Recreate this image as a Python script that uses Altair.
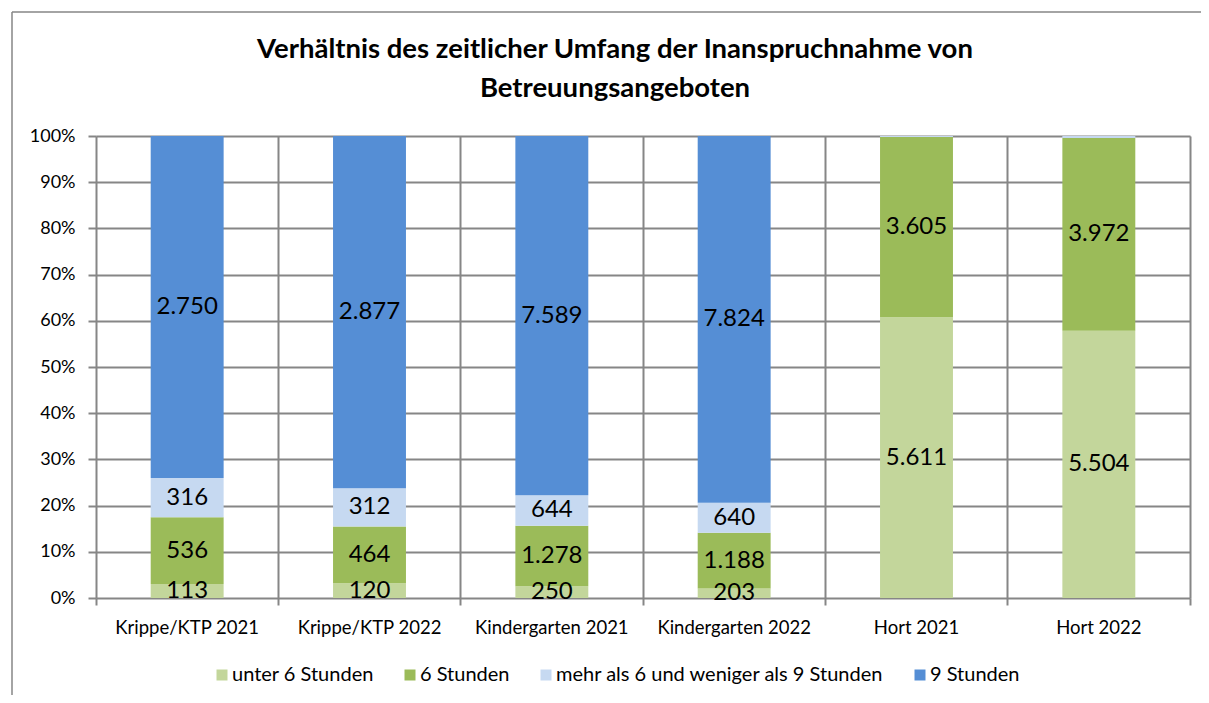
import altair as alt
import pandas as pd

categories = ["Krippe/KTP 2021", "Krippe/KTP 2022", "Kindergarten 2021",
              "Kindergarten 2022", "Hort 2021", "Hort 2022"]
series = ["unter 6 Stunden", "6 Stunden",
          "mehr als 6 und weniger als 9 Stunden", "9 Stunden"]
colors = ["#C3D69B", "#9BBB59", "#C6D9F1", "#558ED5"]

unter6 = [113, 120, 250, 203, 5611, 5504]
std6 = [536, 464, 1278, 1188, 3605, 3972]
mehr = [316, 312, 644, 640, 18, 40]
std9 = [2750, 2877, 7589, 7824, 0, 0]

title_lines = ["Verhältnis des zeitlicher Umfang der Inanspruchnahme von",
               "Betreuungsangeboten"]

rows = []
for si, (name, vals) in enumerate(zip(series, [unter6, std6, mehr, std9])):
    for ci, cat in enumerate(categories):
        v = vals[ci]
        rows.append({"cat": cat, "series": name, "order": si, "value": v,
                     "label": f"{v:,}".replace(",", ".")})
df = pd.DataFrame(rows)

FONT = "Lato"
GRID = "#868686"

base = alt.Chart(df).transform_stack(
    stack="value", groupby=["cat"], as_=["y0", "y1"],
    offset="normalize", sort=[alt.SortField("order")]
).transform_calculate(mid="(datum.y0 + datum.y1) / 2",
                      share="datum.y1 - datum.y0")

xenc = alt.X("cat:N", sort=categories, title=None,
             scale=alt.Scale(paddingInner=0, paddingOuter=0),
             axis=alt.Axis(labelAngle=0, labelFont=FONT, labelFontSize=18.5,
                           labelColor="#000000", labelPadding=13,
                           tickSize=7, tickColor=GRID, tickWidth=2,
                           bandPosition=1, tickExtra=True,
                           grid=True, gridColor=GRID, gridWidth=2,
                           domain=False))

bars = base.mark_bar(width=alt.RelativeBandSize(0.4)).encode(
    x=xenc,
    y=alt.Y("y0:Q", title=None,
            scale=alt.Scale(domain=[0, 1]),
            axis=alt.Axis(format=".0%", values=[i / 10 for i in range(11)],
                          labelFont=FONT, labelFontSize=18,
                          labelColor="#000000", labelPadding=13,
                          tickSize=8, tickColor=GRID, tickWidth=2,
                          grid=True, gridColor=GRID, gridWidth=2,
                          domain=False)),
    y2="y1:Q",
    color=alt.Color("series:N", sort=series,
                    scale=alt.Scale(domain=series, range=colors),
                    legend=alt.Legend(title=None, orient="none",
                                      direction="horizontal",
                                      legendX=116, legendY=529,
                                      symbolType="square", symbolSize=121,
                                      symbolStrokeWidth=0,
                                      labelFont=FONT, labelFontSize=20,
                                      labelColor="#000000", labelOffset=0,
                                      labelLimit=500,
                                      columnPadding=26, padding=0)),
    order=alt.Order("order:Q"),
)

labels = base.transform_filter("datum.share > 0.01").mark_text(
    font=FONT, fontSize=24, color="#000000", baseline="middle", align="center"
).encode(
    x=alt.X("cat:N", sort=categories),
    y=alt.Y("mid:Q"),
    text="label:N",
)

one = pd.DataFrame({"a": [0]})

frame_top = alt.Chart(one).mark_rule(
    stroke=GRID, strokeWidth=1.5, clip=False
).encode(x=alt.value(-84), x2=alt.value(1140), y=alt.value(-124))

frame_left = alt.Chart(one).mark_rule(
    stroke=GRID, strokeWidth=1.5, clip=False
).encode(x=alt.value(-84), y=alt.value(-124), y2=alt.value(620))

title1 = alt.Chart(one).mark_text(
    font=FONT, fontSize=27.5, fontWeight="bold", color="#000000",
    align="center", baseline="alphabetic", clip=False
).encode(x=alt.value(519), y=alt.value(-78), text=alt.value(title_lines[0]))

title2 = alt.Chart(one).mark_text(
    font=FONT, fontSize=27.5, fontWeight="bold", color="#000000",
    align="center", baseline="alphabetic", clip=False
).encode(x=alt.value(519), y=alt.value(-39), text=alt.value(title_lines[1]))

chart = alt.layer(frame_top, frame_left, bars, labels, title1, title2).properties(
    width=1094, height=462,
    autosize=alt.AutoSizeParams(type="none"),
    padding={"left": 88, "top": 128, "right": 11, "bottom": 97},
).configure_view(stroke=GRID, strokeWidth=2).configure(background="white")

chart.save("out.html", embed_options={"renderer": "svg", "actions": False})
